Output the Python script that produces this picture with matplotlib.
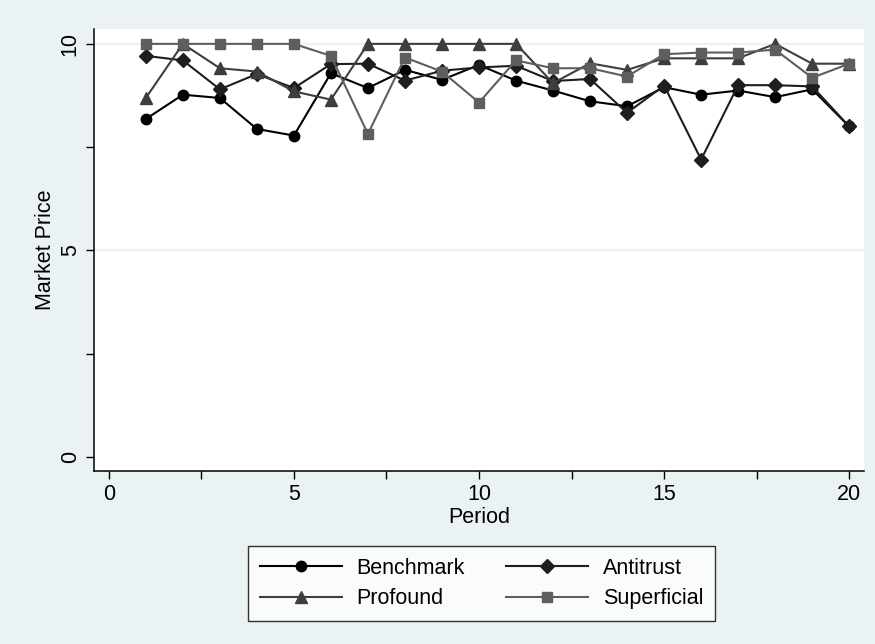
import matplotlib
matplotlib.use("Agg")
from matplotlib import pyplot as plt

plt.rcParams['font.family'] = ['Liberation Sans', 'DejaVu Sans']

period = list(range(1, 21))

benchmark = [8.18, 8.77, 8.69, 7.94, 7.78, 9.29, 8.93, 9.37, 9.13, 9.49,
             9.11, 8.87, 8.61, 8.49, 8.95, 8.77, 8.87, 8.71, 8.90, 8.00]
antitrust = [9.71, 9.60, 8.90, 9.27, 8.93, 9.51, 9.52, 9.11, 9.35, 9.43,
             9.47, 9.10, 9.15, 8.33, 8.99, 7.20, 9.00, 9.00, 8.97, 8.00]
profound = [8.69, 10.0, 9.41, 9.33, 8.85, 8.65, 10.0, 10.0, 10.0, 10.0,
            10.0, 9.05, 9.53, 9.37, 9.65, 9.65, 9.65, 10.0, 9.52, 9.52]
superficial = [10.0, 10.0, 10.0, 10.0, 10.0, 9.71, 7.82, 9.67, 9.33, 8.58,
               9.60, 9.41, 9.41, 9.21, 9.75, 9.79, 9.79, 9.86, 9.18, 9.52]

series_names = ["Benchmark", "Antitrust", "Profound", "Superficial"]

bg = "#eaf2f3"
fs = 15.5

fig = plt.figure(figsize=(8.75, 6.44), dpi=100, facecolor=bg)
ax = fig.add_axes([94/875, 1-471/644, 770/875, 442/644])
ax.set_facecolor("white")

for y in [5, 10]:
    ax.axhline(y, color=bg, lw=1.6, zorder=0)

l1, = ax.plot(period, benchmark, color="black", lw=1.5, marker="o", ms=7.5,
              label=series_names[0])
l2, = ax.plot(period, antitrust, color="#1e1e1e", lw=1.5, marker="D", ms=7,
              label=series_names[1])
l3, = ax.plot(period, profound, color="#3e3e3e", lw=1.5, marker="^", ms=8.5,
              label=series_names[2])
l4, = ax.plot(period, superficial, color="#5e5e5e", lw=1.5, marker="s", ms=7.5,
              label=series_names[3])

ax.set_xlim(-0.4, 20.4)
ax.set_ylim(-0.34, 10.36)
ax.set_xticks([0, 5, 10, 15, 20])
ax.set_xticks([2.5, 7.5, 12.5, 17.5], minor=True)
ax.set_yticks([0, 5, 10])
ax.set_yticks([2.5, 7.5], minor=True)
ax.tick_params(which="both", direction="out", length=6, width=1, labelsize=fs,
               color="black")
plt.setp(ax.get_yticklabels(), rotation=90, va="center")

for s in ["top", "right"]:
    ax.spines[s].set_visible(False)
for s in ["left", "bottom"]:
    ax.spines[s].set_linewidth(1.1)

ax.set_xlabel("Period", fontsize=fs, labelpad=1)
ax.set_ylabel("Market Price", fontsize=fs, labelpad=2.5)

# legend filled row by row like the original (matplotlib fills columns)
handles = [l1, l3, l2, l4]
labels = [h.get_label() for h in handles]
leg = fig.legend(handles, labels, loc="center",
                 bbox_to_anchor=(481.5/875, 1-583.5/644), ncol=2,
                 fontsize=fs, frameon=True, fancybox=False, edgecolor="black",
                 handlelength=3.8, handletextpad=0.7, columnspacing=1.9,
                 labelspacing=0.45, borderpad=0.55)
leg.get_frame().set_linewidth(1.0)

fig.savefig("out.png", dpi=100, facecolor=bg)
